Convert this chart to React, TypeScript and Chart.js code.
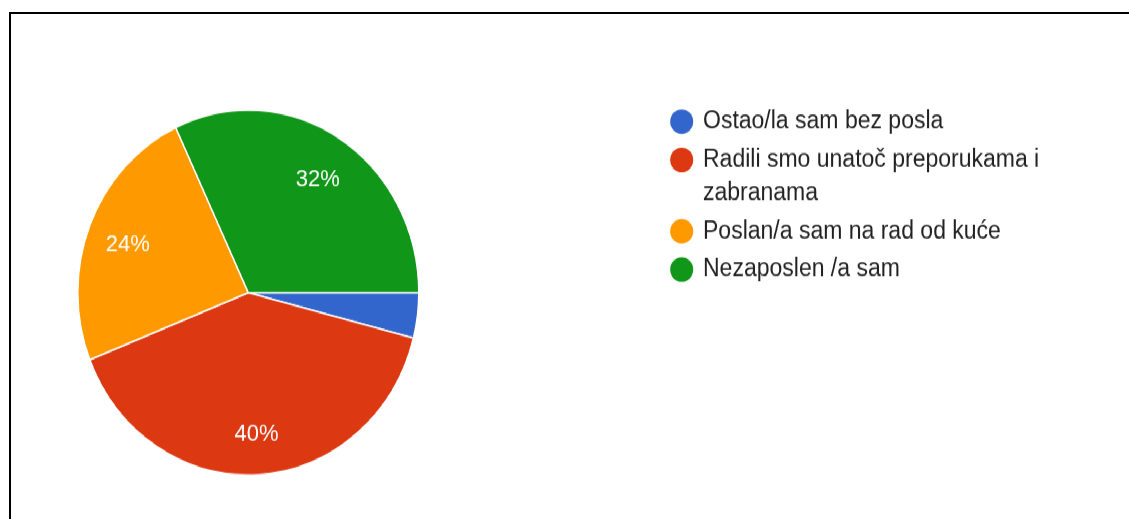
import React, { useEffect, useRef } from "react";
import { Chart, registerables } from "chart.js";

Chart.register(...registerables);

const categories = [
  "Ostao/la sam bez posla",
  "Radili smo unatoč preporukama i zabranama",
  "Poslan/a sam na rad od kuće",
  "Nezaposlen /a sam",
];
const responses = [1, 10, 6, 8];
const sliceColors = ["#3366cc", "#dc3912", "#ff9900", "#109618"];

const STRETCH_Y = 1.07;
const W = 1129;
const H = Math.round(519 / STRETCH_Y);

export default function App() {
  const ref = useRef<HTMLCanvasElement>(null);

  useEffect(() => {
    if (!ref.current) return;

    const pctLabels = {
      id: "pctLabels",
      afterDatasetsDraw(chart: any) {
        const ctx = chart.ctx;
        const meta = chart.getDatasetMeta(0);
        const data = chart.data.datasets[0].data as number[];
        const total = data.reduce((a, b) => a + b, 0);
        ctx.save();
        ctx.font = "22px 'Liberation Sans', Arial, sans-serif";
        ctx.fillStyle = "#ffffff";
        ctx.textAlign = "center";
        ctx.textBaseline = "middle";
        meta.data.forEach((arc: any, i: number) => {
          const pct = Math.round((data[i] / total) * 100);
          if (pct < 5) return;
          const p = arc.getProps(["x", "y", "startAngle", "endAngle", "outerRadius"], true);
          const mid = (p.startAngle + p.endAngle) / 2;
          const r = p.outerRadius * 0.76;
          ctx.fillText(pct + "%", p.x + Math.cos(mid) * r, p.y + Math.sin(mid) * r + 3.6);
        });
        ctx.restore();
      },
    };

    const sideLegend = {
      id: "sideLegend",
      afterDraw(chart: any) {
        const ctx = chart.ctx;
        const labels = chart.data.labels as string[];
        const colors = chart.data.datasets[0].backgroundColor as string[];
        ctx.save();
        ctx.font = "23px 'Liberation Sans', Arial, sans-serif";
        ctx.textBaseline = "middle";
        ctx.textAlign = "left";
        const lineH = 30.9;
        const gap = 35.8;
        const maxW = 350;
        let y = 113.7;
        labels.forEach((label, i) => {
          const words = label.split(" ");
          const lines: string[] = [];
          let cur = "";
          for (const w of words) {
            const t = cur ? cur + " " + w : w;
            if (cur && ctx.measureText(t).width > maxW) {
              lines.push(cur);
              cur = w;
            } else cur = t;
          }
          lines.push(cur);
          ctx.fillStyle = colors[i];
          ctx.beginPath();
          ctx.arc(681.7, y, 11.5, 0, Math.PI * 2);
          ctx.fill();
          ctx.fillStyle = "#222222";
          lines.forEach((ln, j) => ctx.fillText(ln, 703, y + j * lineH));
          y += (lines.length - 1) * lineH + gap;
        });
        ctx.restore();
      },
    };

    const chart = new Chart(ref.current, {
      type: "pie",
      data: {
        labels: categories,
        datasets: [
          {
            data: responses,
            backgroundColor: sliceColors,
            borderColor: "#ffffff",
            borderWidth: 1.5,
            radius: 170.5,
          } as any,
        ],
      },
      options: {
        responsive: false,
        animation: false,
        rotation: 90,
        layout: { padding: { left: 78, top: 103, right: 710.4, bottom: H - 103 - 341 } },
        plugins: {
          legend: { display: false },
          tooltip: { enabled: false },
          title: { display: false },
        },
      },
      plugins: [pctLabels, sideLegend],
    });

    return () => chart.destroy();
  }, []);

  return (
    <>
      <div
        style={{
          position: "fixed",
          left: 0,
          top: 0,
          width: W,
          height: H,
          transform: `scaleY(${STRETCH_Y})`,
          transformOrigin: "0 0",
          background: "#ffffff",
        }}
      >
        <canvas ref={ref} width={W} height={H} style={{ display: "block", width: W, height: H }} />
      </div>
      <div
        style={{
          position: "fixed",
          left: 9,
          top: 12,
          width: 1300,
          height: 700,
          borderTop: "2px solid #000",
          borderLeft: "2px solid #000",
          pointerEvents: "none",
        }}
      />
    </>
  );
}
